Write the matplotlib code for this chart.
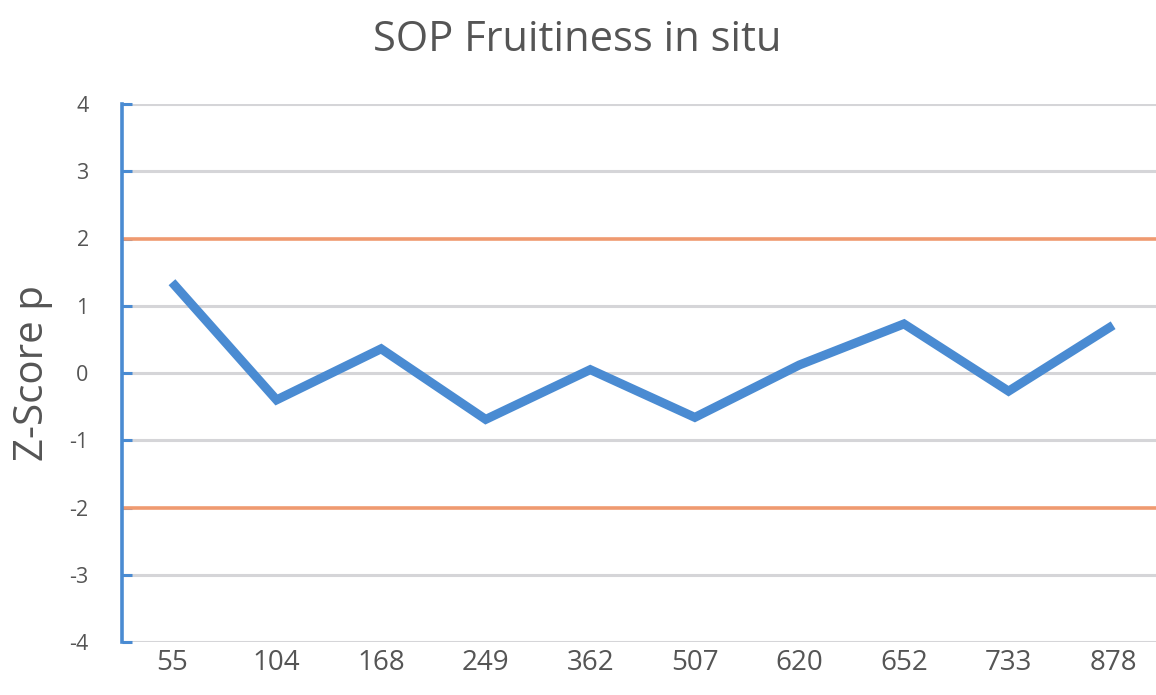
import matplotlib
matplotlib.use("Agg")
import matplotlib.pyplot as plt

categories = ['55', '104', '168', '249', '362', '507', '620', '652', '733', '878']
z_scores = [1.35, -0.40, 0.36, -0.69, 0.05, -0.66, 0.12, 0.73, -0.27, 0.71]
y_ticks = [-4, -3, -2, -1, 0, 1, 2, 3, 4]
limits = [-2, 2]

plt.rcParams['font.family'] = ['Open Sans', 'DejaVu Sans']
grey_text = '#555555'
blue = '#4A8BD2'

fig = plt.figure(figsize=(11.56, 6.95), dpi=100)
ax = fig.add_axes([122/1156, 1-642/695, (1156-122)/1156, (642-104)/695])

x = list(range(len(categories)))
for t in y_ticks:
    if t not in limits:
        ax.axhline(t, color='#D5D5D8', lw=2.2, zorder=1)
for lim in limits:
    ax.axhline(lim, color='#EF9A70', lw=2.6, zorder=2)

ax.plot(x, z_scores, color=blue, lw=6.5, solid_joinstyle='miter', solid_capstyle='butt', zorder=3)

ax.set_ylim(-4, 4)
ax.set_xlim(-0.478, 9.41)
ax.set_yticks(y_ticks)
ax.set_yticklabels([str(t) for t in y_ticks])
ax.set_xticks(x)
ax.set_xticklabels(categories)

for s in ['top', 'right', 'bottom']:
    ax.spines[s].set_visible(False)
ax.spines['left'].set_color(blue)
ax.spines['left'].set_linewidth(2.6)

ax.tick_params(axis='y', direction='in', length=7, width=2.2, color=blue,
               labelsize=15.5, labelcolor=grey_text, pad=24)
ax.tick_params(axis='x', length=0, labelsize=20, labelcolor=grey_text, pad=5)

ax.set_ylabel('Z-Score p', fontsize=29, color=grey_text, labelpad=12)
fig.text(577/1156, 0.943, 'SOP Fruitiness in situ', ha='center', va='center',
         fontsize=30, color=grey_text)

fig.savefig('out.png', dpi=100)
